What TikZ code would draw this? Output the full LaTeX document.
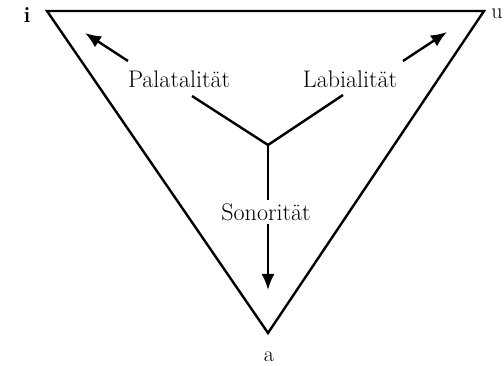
\documentclass[tikz,border=0pt]{standalone}
\usepackage{tikz}
\usetikzlibrary{arrows.meta, calc}

\begin{document}
\begin{tikzpicture}[x=1pt, y=-1pt, >={Latex[length=16pt, width=13pt]}, line width=2.4pt]

\tikzset{
  lbl/.style={inner sep=2pt, font=\fontsize{24}{28}\selectfont},
  vtx/.style={inner sep=0pt, font=\fontsize{22}{26}\selectfont},
}

\useasboundingbox (0,0) rectangle (504,366);

% vowel triangle
\coordinate (i) at (47,11);
\coordinate (u) at (484,11);
\coordinate (a) at (268,333);
\draw[line join=miter] (i) -- (u) -- (a) -- cycle;

\node[vtx, font=\fontsize{22}{26}\selectfont\bfseries] (ilab) at (27,15) {i};
\node[vtx] (ulab) at (497,14) {u};
\node[vtx] (alab) at (269,357) {a};

\node[lbl] (pal) at (179,79) {Palatalität};
\node[lbl] (lab) at (350,79) {Labialität};
\node[lbl] (son) at (266,212) {Sonorität};

\coordinate (mid) at (268,145);
\coordinate (palend) at (192,96);
\coordinate (labend) at (343,95);
\coordinate (itip) at (85,33);
\coordinate (utip) at (447,32);
\coordinate (atip) at (268,290);

\draw (palend) -- (mid) -- (labend);
\draw (mid) -- (mid |- son.north);
\draw[->] (mid |- son.south) -- (atip);
\draw[->] (128,61) coordinate (pstart) -- (itip);
\draw[->] (403,61) coordinate (lstart) -- (utip);

\end{tikzpicture}
\end{document}
